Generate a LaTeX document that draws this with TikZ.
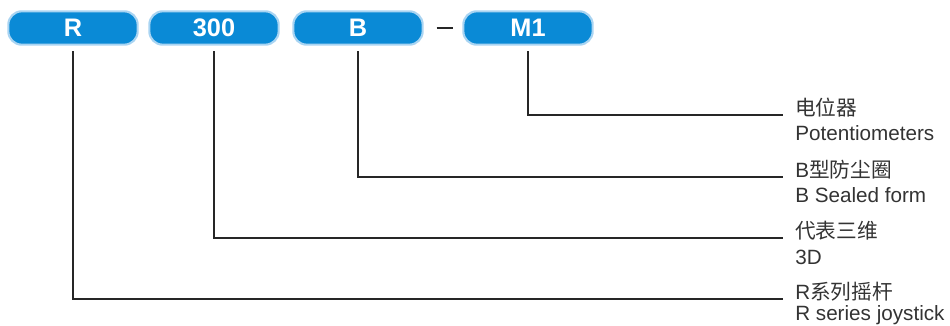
\documentclass[tikz,border=0pt]{standalone}
\usepackage{fontspec}
\setmainfont{Liberation Sans}
\newfontfamily\cjk{Noto Sans CJK SC}
\definecolor{pillfill}{HTML}{0A8AD6}
\definecolor{pillrim}{HTML}{A9D4F2}
\definecolor{txtgray}{HTML}{333333}
\begin{document}
\begin{tikzpicture}[x=0.75pt,y=-0.75pt,
  pill/.style={draw=pillrim,fill=pillfill,line width=1.6pt,rounded corners=10pt,
    minimum width=97pt,minimum height=25pt,inner sep=0pt,
    text=white,font=\fontsize{19}{19}\selectfont\bfseries},
  zhlabel/.style={anchor=base west,inner sep=0pt,text=txtgray,font=\fontsize{15.5}{15.5}\selectfont\cjk},
  enlabel/.style={anchor=base west,inner sep=0pt,text=txtgray,font=\fontsize{15.5}{15.5}\selectfont},
  lead/.style={draw=black!85,line width=0.8pt}]
\useasboundingbox (0,0) rectangle (950,325);
\node[pill] (pR) at (73,28) {R};
\node[pill] (p300) at (214,28) {300};
\node[pill] (pB) at (358,28) {B};
\node[pill] (pM) at (528,28) {M1};
\node[inner sep=0pt,minimum width=12pt,minimum height=1pt] (dash) at (445,28) {};
\draw[black!85,line width=0.8pt] (dash.west) -- (dash.east);
\node[zhlabel] (zM) at (795,115) {电位器};
\node[enlabel] (eM) at (795,140) {Potentiometers};
\node[zhlabel] (zB) at (795,177) {{\fontspec{Liberation Sans}B}型防尘圈};
\node[enlabel] (eB) at (795,202) {B Sealed form};
\node[zhlabel] (z3) at (795,238) {代表三维};
\node[enlabel] (e3) at (795,264) {3D};
\node[zhlabel] (zR) at (795,299) {{\fontspec{Liberation Sans}R}系列摇杆};
\node[enlabel] (eR) at (795,320) {R series joystick};
\draw[lead] ([yshift=-4pt]pM.south) |- ([xshift=-9pt]zM.base west);
\draw[lead] ([yshift=-4pt]pB.south) |- ([xshift=-9pt]zB.base west);
\draw[lead] ([yshift=-4pt]p300.south) |- ([xshift=-9pt]z3.base west);
\draw[lead] ([yshift=-4pt]pR.south) |- ([xshift=-9pt]zR.base west);
\end{tikzpicture}
\end{document}
